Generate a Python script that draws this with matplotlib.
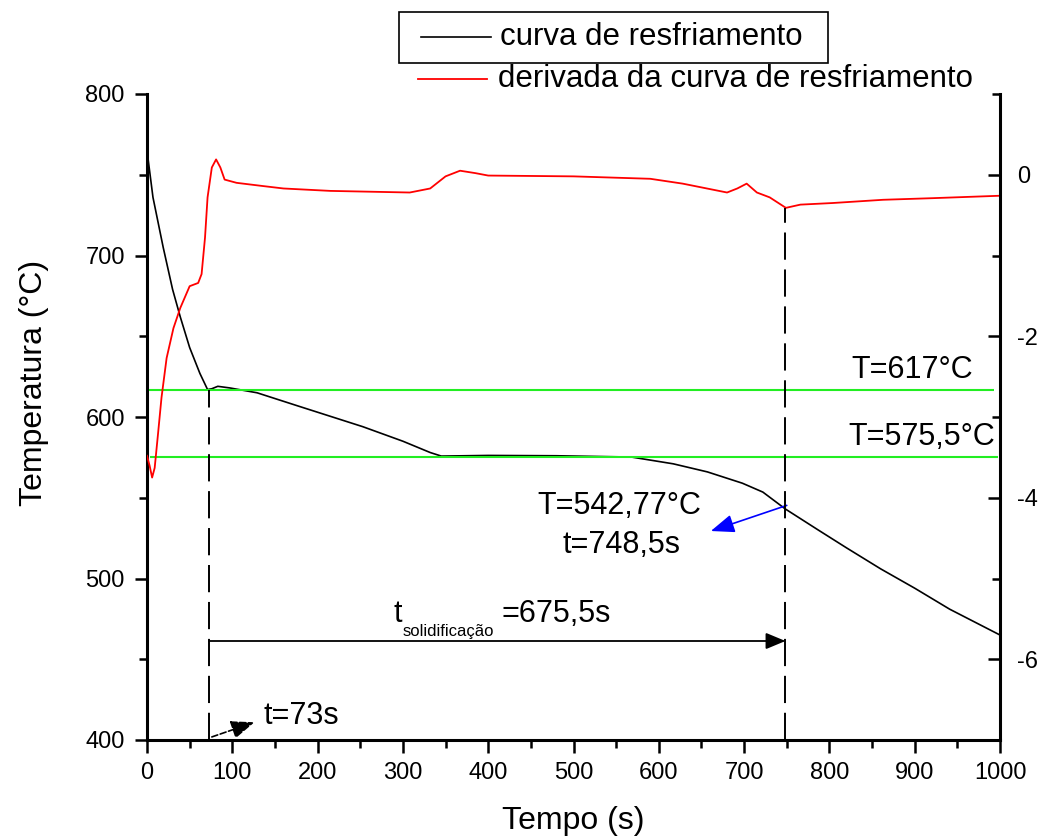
import numpy as np
import matplotlib
matplotlib.use("Agg")
import matplotlib.pyplot as plt
from matplotlib.lines import Line2D
from matplotlib.patches import Rectangle

plt.rcParams["font.family"] = ["Liberation Sans", "DejaVu Sans"]
plt.rcParams["axes.unicode_minus"] = False

# cooling curve (left axis)
time_s = [0, 7, 19, 30, 39, 50, 62, 71, 76, 83, 97, 129, 176, 253, 300, 332, 345,
          400, 480, 568, 617, 657, 698, 722, 748.5, 787, 820, 860, 900, 941, 1000]
temp_C = [765, 736, 705, 679, 662, 643, 627, 617, 617.5, 619, 618, 615, 607, 594, 585,
          578, 575.8, 576.2, 576.0, 575.2, 571, 566, 559, 553.5, 543, 530, 519,
          506, 494, 481, 465]

# derivative of the cooling curve (right axis)
time_d = [0, 3, 6, 9, 13, 17, 23, 31, 39, 50, 60, 64, 68, 71, 76, 81, 86, 91, 105,
          136, 160, 215, 308, 332, 350, 367, 385, 400, 500, 590, 628, 680, 692, 703,
          715, 730, 749, 766, 804, 863, 921, 1000]
dTdt = [-3.48, -3.60, -3.75, -3.63, -3.2, -2.76, -2.27, -1.90, -1.65, -1.38, -1.34,
        -1.23, -0.78, -0.28, 0.09, 0.19, 0.09, -0.06, -0.10, -0.14, -0.17, -0.20,
        -0.22, -0.17, -0.02, 0.05, 0.02, -0.01, -0.02, -0.05, -0.11, -0.22, -0.17,
        -0.11, -0.22, -0.28, -0.41, -0.37, -0.35, -0.31, -0.29, -0.26]

T_liq = 617
T_eut = 575.5
t_start = 73
t_end = 748.5
T_end = 542.77

W, H = 1042, 839
fig = plt.figure(figsize=(W / 100, H / 100), dpi=100)
ax = fig.add_axes([147 / W, 99 / H, 853 / W, 646 / H])
ax2 = ax.twinx()

ax.plot(time_s, temp_C, color="black", lw=1.2)
ax2.plot(time_d, dTdt, color="red", lw=1.3)

# reference temperatures
ax.hlines(T_liq, 0, 993, color="#22ee22", lw=1.5)
ax.hlines(T_eut, 3, 998, color="#22ee22", lw=1.5)
ax.text(968, T_liq + 3, "T=617°C", ha="right", va="bottom", fontsize=22)
ax.text(994, T_eut + 3, "T=575,5°C", ha="right", va="bottom", fontsize=22)

# start / end of solidification
dash = (0, (14, 5))
ax.plot([t_start, t_start], [400, T_liq], color="black", lw=1.4, ls=dash)
d_end = np.interp(t_end, time_d, dTdt)
ax2.plot([t_end, t_end], [-7, d_end], color="black", lw=1.4, ls=dash)

ax.annotate("", xy=(t_end, 461.3), xytext=(t_start, 461.3),
            arrowprops=dict(arrowstyle="-|>,head_length=0.6,head_width=0.25",
                            color="black", lw=1.3, mutation_scale=20,
                            shrinkA=0, shrinkB=0))
ax.text(299, 478, "t", ha="right", va="center", fontsize=22)
ax.text(300, 467, "solidificação", ha="left", va="center", fontsize=12)
ax.text(416, 478, "=675,5s", ha="left", va="center", fontsize=22)

ax.annotate("", xy=(126, 411), xytext=(76, 401.9),
            arrowprops=dict(arrowstyle="-|>,head_length=0.9,head_width=0.35",
                            color="black", lw=1.2, ls="--", mutation_scale=16,
                            shrinkA=0, shrinkB=0))
ax.text(136, 414.9, "t=73s", ha="left", va="center", fontsize=22)

ax.annotate("", xy=(661, 529.4), xytext=(750, T_end + 2.5),
            arrowprops=dict(arrowstyle="-|>,head_length=0.9,head_width=0.35",
                            color="blue", lw=1.2, mutation_scale=16,
                            shrinkA=0, shrinkB=0))
ax.text(554, 545.2, "T=542,77°C", ha="center", va="center", fontsize=22)
ax.text(556, 520.7, "t=748,5s", ha="center", va="center", fontsize=22)

# axes
ax.set_xlim(0, 1000)
ax.set_ylim(400, 800)
ax2.set_ylim(-7, 1)
ax.set_xticks(np.arange(0, 1001, 100))
ax.set_xticks(np.arange(50, 1000, 100), minor=True)
ax.set_yticks(np.arange(400, 801, 100))
ax.set_yticks(np.arange(450, 800, 100), minor=True)
ax2.set_yticks([0, -2, -4, -6])
ax2.set_yticks([1, -1, -3, -5], minor=True)

for a in (ax, ax2):
    a.spines["top"].set_visible(False)
    for s in a.spines.values():
        s.set_linewidth(2.2)
ax.spines["right"].set_visible(False)
ax2.spines["left"].set_visible(False)
ax2.spines["bottom"].set_visible(False)

ax.tick_params(which="major", direction="out", length=9, width=1.8,
               labelsize=17, pad=7)
ax.tick_params(which="minor", direction="out", length=6, width=1.8)
ax2.tick_params(which="major", direction="in", length=9, width=1.8,
                labelsize=17, pad=12)
ax2.tick_params(which="minor", direction="in", length=6, width=1.8)

ax.set_xlabel("Tempo (s)", fontsize=23)
ax.set_ylabel("Temperatura (°C)", fontsize=23)
ax.xaxis.set_label_coords(0.5, -0.102)
ax.yaxis.set_label_coords(-0.115, 0.553)

# legend drawn as in the original (only the first entry framed)
fig.add_artist(Rectangle((399 / W, 1 - 63 / H), (828 - 399) / W, 51 / H,
                         transform=fig.transFigure, fill=False, ec="black", lw=1.2))
fig.add_artist(Line2D([421 / W, 491 / W], [1 - 37 / H] * 2, color="black", lw=1.2))
fig.text(500 / W, 1 - 37 / H, "curva de resfriamento", va="center", fontsize=22.5)
fig.add_artist(Line2D([418 / W, 487 / W], [1 - 79 / H] * 2, color="red", lw=1.3))
fig.text(498 / W, 1 - 79 / H, "derivada da curva de resfriamento", va="center",
         fontsize=22.5)

fig.savefig("out.png", dpi=100)
